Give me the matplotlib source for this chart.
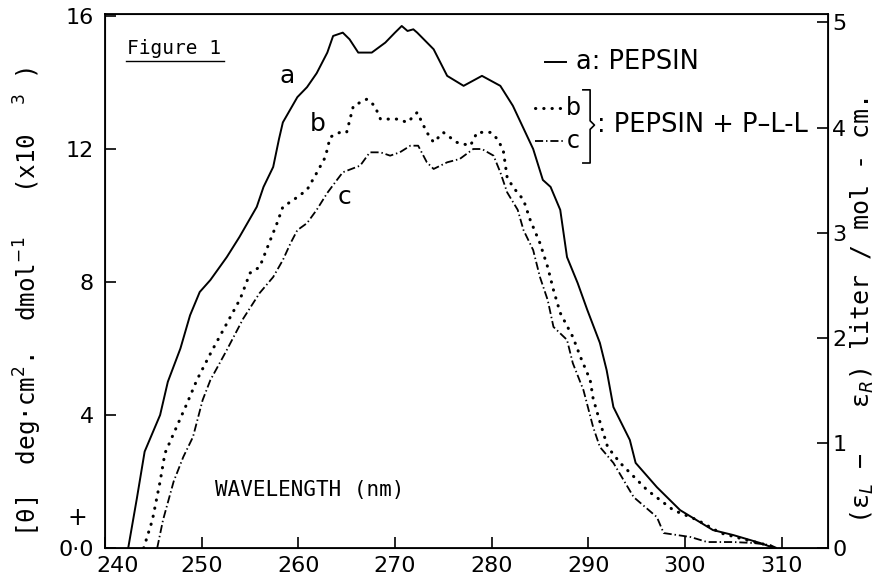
import matplotlib
matplotlib.use("Agg")
import matplotlib.pyplot as plt
from matplotlib.transforms import ScaledTranslation

# curve a: pepsin (solid)
a_x = [242.4, 243.3, 244.1, 245.7, 246.5, 247.8, 248.8, 249.8, 250.9, 252.6, 253.9,
       255.7, 256.4, 257.4, 258.0, 258.4, 259.9, 260.9, 261.9, 263.0, 263.6, 264.6,
       265.3, 266.2, 267.6, 269.0, 270.0, 270.7, 271.3, 271.9, 272.3, 274.0, 275.4,
       277.1, 279.0, 280.9, 282.2, 284.3, 285.3, 286.1, 287.1, 287.8, 288.9, 289.9,
       291.2, 291.9, 292.6, 294.3, 294.9, 297.1, 299.5, 302.9, 305.0, 307.8, 309.2]
a_y = [0.0, 1.5, 2.9, 4.0, 5.0, 6.0, 7.0, 7.7, 8.06, 8.75, 9.35,
       10.26, 10.86, 11.46, 12.3, 12.8, 13.56, 13.86, 14.28, 14.9, 15.4, 15.5,
       15.3, 14.9, 14.9, 15.2, 15.5, 15.7, 15.55, 15.6, 15.5, 15.0, 14.2,
       13.9, 14.2, 13.9, 13.3, 12.0, 11.07, 10.86, 10.17, 8.75, 7.97, 7.16,
       6.17, 5.35, 4.24, 3.25, 2.56, 1.83, 1.14, 0.54, 0.39, 0.15, 0.0]

# curve b: pepsin + P-L-L (dotted)
b_x = [244.0, 244.9, 245.7, 246.2, 247.4, 248.5, 249.5, 251.0, 252.5, 254.0, 255.0,
       256.0, 257.1, 257.8, 258.4, 259.5, 260.9, 261.9, 262.8, 263.3, 264.3, 265.0,
       265.7, 267.1, 267.9, 268.5, 270.2, 271.3, 272.3, 273.3, 274.0, 275.0, 276.4,
       277.8, 278.5, 279.9, 280.6, 281.2, 281.6, 282.2, 283.3, 284.0, 285.0, 285.8,
       286.4, 287.1, 288.4, 289.2, 290.2, 290.5, 291.2, 292.0, 293.3, 296.1, 298.8,
       301.3, 303.7, 306.4, 308.5, 309.5]
b_y = [0.0, 0.84, 2.0, 2.85, 3.64, 4.36, 5.05, 5.9, 6.7, 7.5, 8.27,
       8.45, 9.26, 9.77, 10.26, 10.47, 10.77, 11.28, 11.76, 12.36, 12.5, 12.5,
       13.3, 13.5, 13.3, 12.9, 12.9, 12.8, 13.1, 12.5, 12.2, 12.5, 12.2,
       12.1, 12.5, 12.5, 12.3, 11.97, 11.16, 10.86, 10.47, 9.86, 9.17, 8.45,
       7.76, 7.07, 6.35, 5.74, 5.05, 4.5, 3.8, 3.04, 2.56, 1.74, 1.14,
       0.84, 0.45, 0.24, 0.09, 0.0]

# curve c: pepsin + P-L-L (dash-dot)
c_x = [245.4, 246.0, 247.1, 248.1, 249.1, 250.1, 250.9, 252.5, 254.3, 256.0, 257.4,
       258.4, 259.2, 259.9, 260.9, 261.9, 263.0, 264.0, 264.6, 266.4, 267.4, 268.5,
       269.5, 270.5, 271.6, 272.4, 273.3, 274.0, 275.4, 276.7, 278.1, 279.0, 280.2,
       280.9, 281.6, 282.7, 283.3, 284.3, 285.0, 285.8, 286.4, 287.8, 288.4, 289.5,
       290.5, 291.2, 292.6, 294.7, 297.1, 297.8, 299.2, 300.6, 302.3, 305.0, 307.1,
       308.8, 309.5]
c_y = [0.0, 0.84, 2.0, 2.74, 3.34, 4.45, 5.05, 5.9, 6.9, 7.67, 8.15,
       8.66, 9.17, 9.56, 9.77, 10.17, 10.68, 11.07, 11.3, 11.5, 11.9, 11.9,
       11.8, 11.9, 12.1, 12.1, 11.6, 11.4, 11.6, 11.7, 12.0, 12.0, 11.8,
       11.3, 10.7, 10.17, 9.56, 8.96, 8.15, 7.46, 6.65, 6.26, 5.56, 4.75,
       3.64, 3.04, 2.56, 1.53, 0.93, 0.45, 0.39, 0.33, 0.18, 0.18, 0.15,
       0.09, 0.0]

x_ticks = [240, 250, 260, 270, 280, 290, 300, 310]
y_ticks = [0, 4, 8, 12, 16]
y_tick_labels = ["0·0", "4", "8", "12", "16"]
r_ticks = [0, 1, 2, 3, 4, 5]

style_a = dict(color="black", lw=1.4, linestyle="-")
style_b = dict(color="black", lw=2.2, linestyle=(0, (0.1, 2.6)), dash_capstyle="round")
style_c = dict(color="black", lw=1.3, linestyle=(0, (4.5, 1.6, 0.8, 1.6)))

MONO = "DejaVu Sans Mono"
plt.rcParams["font.family"] = ["DejaVu Sans"]

fig = plt.figure(figsize=(8.81, 5.79), dpi=100)
ax = fig.add_axes([0.1192, 0.0535, 0.8206, 0.9223])

ax.plot(a_x, a_y, **style_a)
ax.plot(b_x, b_y, **style_b)
ax.plot(c_x, c_y, **style_c)

ax.set_xlim(240, 314.8)
ax.set_ylim(0, 16.06)
ax.set_xticks(x_ticks)
ax.set_yticks(y_ticks)
ax.set_yticklabels(y_tick_labels)
ax.tick_params(direction="in", length=8, width=1.2, labelsize=16, pad=8)
ax.tick_params(axis="x", pad=6)
for s in ax.spines.values():
    s.set_linewidth(1.3)
# first wavelength label sits a bit right of the corner in the original
lab0 = ax.get_xticklabels()[0]
lab0.set_transform(lab0.get_transform() + ScaledTranslation(0.13, 0, fig.dpi_scale_trans))

ax2 = ax.twinx()
ax2.set_ylim(0, 5.08)
ax2.set_yticks(r_ticks)
ax2.tick_params(direction="in", length=8, width=1.2, labelsize=16, pad=3)

# curve labels
ax.text(258.8, 14.2, "a", fontsize=18, ha="center", va="center")
ax.text(262.0, 12.75, "b", fontsize=18, ha="center", va="center")
ax.text(264.8, 10.55, "c", fontsize=18, ha="center", va="center")

# captions inside the frame
ax.text(0.031, 0.936, "Figure 1", transform=ax.transAxes, fontsize=14,
        family=MONO, va="center")
ax.plot([0.029, 0.165], [0.912, 0.912], transform=ax.transAxes, color="black", lw=1.0)
ax.text(0.152, 0.109, "WAVELENGTH (nm)", transform=ax.transAxes, fontsize=15,
        family=MONO, va="center")
ax.text(-0.038, 0.056, "+", transform=ax.transAxes, fontsize=17, ha="center", va="center")

# legend drawn by hand
ax.plot([0.608, 0.638], [0.910, 0.910], transform=ax.transAxes, **style_a)
ax.text(0.652, 0.910, "a: PEPSIN", transform=ax.transAxes, fontsize=18.5, va="center")
ax.plot([0.595, 0.636], [0.824, 0.824], transform=ax.transAxes, **style_b)
ax.text(0.638, 0.824, "b", transform=ax.transAxes, fontsize=17, va="center")
ax.plot([0.595, 0.636], [0.762, 0.762], transform=ax.transAxes, **style_c)
ax.text(0.638, 0.762, "c", transform=ax.transAxes, fontsize=17, va="center")
ax.plot([0.661, 0.671, 0.671, 0.677, 0.671, 0.671, 0.661],
        [0.858, 0.858, 0.80, 0.792, 0.784, 0.721, 0.721],
        transform=ax.transAxes, color="black", lw=1.2)
ax.text(0.68, 0.792, ": PEPSIN + P\u2013L-L", transform=ax.transAxes, fontsize=18.5, va="center")

fig.text(0.032, 0.478, "[\u03b8]  deg\u00b7cm$^2$.  dmol$^{-1}$   (x10  $^3$ )",
         rotation=90, fontsize=17.5, family=MONO, ha="center", va="center")
fig.text(0.979, 0.463, "(\u03b5$_L$ \u2212   \u03b5$_R$) liter / mol - cm.",
         rotation=90, fontsize=18, family=MONO, ha="center", va="center")

fig.savefig("out.png", dpi=100)
